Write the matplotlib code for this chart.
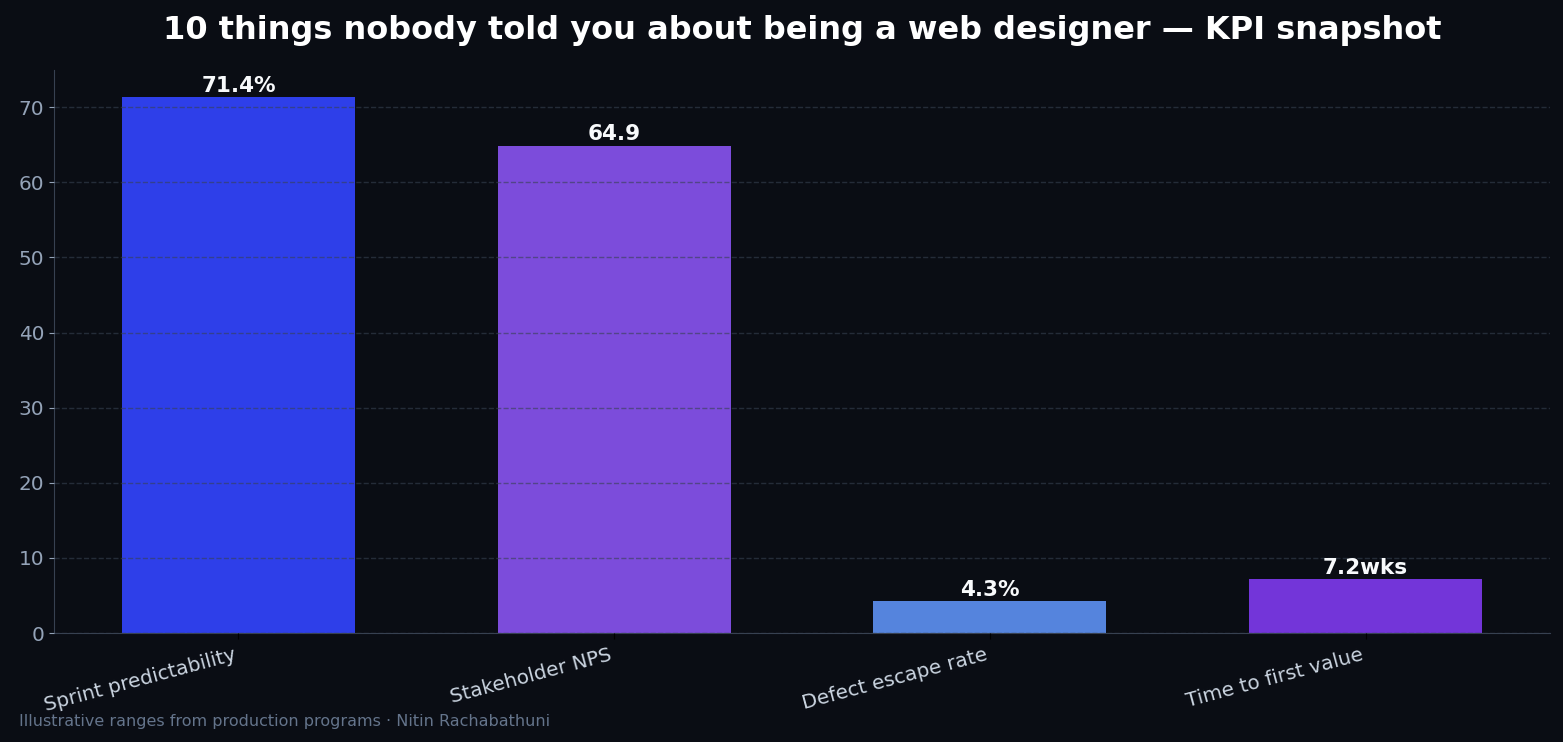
import matplotlib
matplotlib.use("Agg")
import matplotlib.pyplot as plt

# KPI snapshot data
categories = ["Sprint predictability", "Stakeholder NPS", "Defect escape rate", "Time to first value"]
values = [71.4, 64.9, 4.3, 7.2]
value_labels = ["71.4%", "64.9", "4.3%", "7.2wks"]
bar_colors = ["#2e3fe9", "#7c4cdb", "#5584dd", "#7335d9"]

BG = "#0a0d14"

fig, ax = plt.subplots(figsize=(15.63, 7.42), dpi=100)
fig.patch.set_facecolor(BG)
ax.set_facecolor(BG)
fig.subplots_adjust(left=0.0345, right=0.9917, top=0.9057, bottom=0.1469)

x = range(len(categories))
bars = ax.bar(x, values, width=0.62, color=bar_colors, zorder=1)

for bar, lbl in zip(bars, value_labels):
    ax.text(
        bar.get_x() + bar.get_width() / 2,
        bar.get_height() + 0.15,
        lbl,
        ha="center",
        va="bottom",
        color="#f8fafc",
        fontsize=15.5,
        fontweight="bold",
    )

ax.set_ylim(0, max(values) * 1.05)
ax.set_xticks(list(x))
ax.set_xticklabels(categories, rotation=15, ha="right", fontsize=14.4, color="#cbd5e1")
ax.tick_params(axis="y", colors="#94a3b8", labelsize=14.4)
ax.tick_params(axis="x", color="black", length=4, pad=5)
ax.tick_params(axis="y", color="#94a3b8")

ax.grid(axis="y", linestyle="--", color="#374151", alpha=0.6, linewidth=1, zorder=2)
ax.set_axisbelow(False)

for side in ["top", "right"]:
    ax.spines[side].set_visible(False)
for side in ["left", "bottom"]:
    ax.spines[side].set_color("#374151")

ax.set_title(
    "10 things nobody told you about being a web designer \u2014 KPI snapshot",
    fontsize=23,
    fontweight="bold",
    color="white",
    pad=22,
)

fig.text(0.012, 0.022, "Illustrative ranges from production programs \u00b7 Nitin Rachabathuni",
         fontsize=11.5, color="#64748b")

fig.savefig("out.png", dpi=100, facecolor=BG)
